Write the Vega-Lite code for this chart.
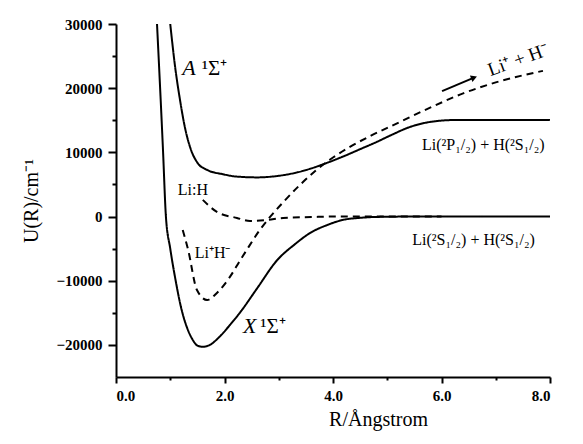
{
  "$schema": "https://vega.github.io/schema/vega-lite/v6.json",
  "width": 434,
  "height": 353,
  "autosize": {"type": "none"},
  "padding": {"left": 116, "top": 24, "right": 33, "bottom": 67},
  "background": "white",
  "config": {
    "view": {"stroke": null},
    "font": "Liberation Serif",
    "axis": {"labelFont": "Liberation Serif", "titleFont": "Liberation Serif", "labelColor": "black", "titleColor": "black", "domainColor": "black", "tickColor": "black", "grid": false}
  },
  "datasets": {
    "curves": [
      {"s": "X", "R": 0.756, "U": 30000}, {"s": "X", "R": 0.866, "U": 10400}, {"s": "X", "R": 0.92, "U": 0},
      {"s": "X", "R": 1.0, "U": -5000}, {"s": "X", "R": 1.1, "U": -10000}, {"s": "X", "R": 1.2, "U": -14200},
      {"s": "X", "R": 1.3, "U": -17100}, {"s": "X", "R": 1.4, "U": -19000}, {"s": "X", "R": 1.5, "U": -20100},
      {"s": "X", "R": 1.6, "U": -20300}, {"s": "X", "R": 1.75, "U": -19900}, {"s": "X", "R": 1.9, "U": -18800},
      {"s": "X", "R": 2.1, "U": -16900}, {"s": "X", "R": 2.3, "U": -14800}, {"s": "X", "R": 2.6, "U": -11200},
      {"s": "X", "R": 2.97, "U": -6800}, {"s": "X", "R": 3.3, "U": -4300}, {"s": "X", "R": 3.58, "U": -2550},
      {"s": "X", "R": 3.9, "U": -1300}, {"s": "X", "R": 4.18, "U": -530}, {"s": "X", "R": 4.5, "U": -200},
      {"s": "X", "R": 4.81, "U": -60}, {"s": "X", "R": 5.5, "U": 0}, {"s": "X", "R": 8.0, "U": 0},
      {"s": "A", "R": 1.0, "U": 30000}, {"s": "A", "R": 1.09, "U": 23300}, {"s": "A", "R": 1.18, "U": 18160},
      {"s": "A", "R": 1.27, "U": 13900}, {"s": "A", "R": 1.37, "U": 10700}, {"s": "A", "R": 1.5, "U": 8400},
      {"s": "A", "R": 1.68, "U": 7260}, {"s": "A", "R": 1.97, "U": 6600},
      {"s": "A", "R": 2.2, "U": 6250}, {"s": "A", "R": 2.6, "U": 6100}, {"s": "A", "R": 3.0, "U": 6350},
      {"s": "A", "R": 3.3, "U": 6800}, {"s": "A", "R": 3.6, "U": 7500}, {"s": "A", "R": 3.9, "U": 8400},
      {"s": "A", "R": 4.2, "U": 9400}, {"s": "A", "R": 4.5, "U": 10500}, {"s": "A", "R": 4.8, "U": 11600},
      {"s": "A", "R": 5.1, "U": 12800}, {"s": "A", "R": 5.4, "U": 13900}, {"s": "A", "R": 5.7, "U": 14600},
      {"s": "A", "R": 6.0, "U": 14950}, {"s": "A", "R": 6.3, "U": 15050}, {"s": "A", "R": 8.0, "U": 15050},
      {"s": "ionic", "R": 1.23, "U": -2100}, {"s": "ionic", "R": 1.33, "U": -5200}, {"s": "ionic", "R": 1.49, "U": -11400},
      {"s": "ionic", "R": 1.68, "U": -13000}, {"s": "ionic", "R": 1.86, "U": -11900}, {"s": "ionic", "R": 2.1, "U": -9400},
      {"s": "ionic", "R": 2.29, "U": -6800}, {"s": "ionic", "R": 2.41, "U": -5200}, {"s": "ionic", "R": 2.65, "U": -2100},
      {"s": "ionic", "R": 2.84, "U": -60}, {"s": "ionic", "R": 3.1, "U": 2400}, {"s": "ionic", "R": 3.4, "U": 5000},
      {"s": "ionic", "R": 3.7, "U": 7300}, {"s": "ionic", "R": 4.0, "U": 9200}, {"s": "ionic", "R": 4.3, "U": 10800},
      {"s": "ionic", "R": 4.7, "U": 12600}, {"s": "ionic", "R": 5.2, "U": 14600}, {"s": "ionic", "R": 5.8, "U": 17000},
      {"s": "ionic", "R": 6.4, "U": 19200}, {"s": "ionic", "R": 7.0, "U": 20900}, {"s": "ionic", "R": 7.87, "U": 22700},
      {"s": "cov", "R": 1.6, "U": 2600}, {"s": "cov", "R": 1.86, "U": 720}, {"s": "cov", "R": 2.23, "U": -220},
      {"s": "cov", "R": 2.47, "U": -690}, {"s": "cov", "R": 2.78, "U": -530}, {"s": "cov", "R": 3.08, "U": -220},
      {"s": "cov", "R": 3.6, "U": -80}, {"s": "cov", "R": 4.0, "U": 0}, {"s": "cov", "R": 6.0, "U": 0}
    ],
    "italic": [
      {"t": "A", "R": 1.22, "U": 22100},
      {"t": "X", "R": 2.34, "U": -18100}
    ],
    "upright_big": [
      {"t": "¹Σ⁺", "R": 1.58, "U": 22100},
      {"t": "¹Σ⁺", "R": 2.66, "U": -18100}
    ],
    "small": [
      {"t": "Li:H", "R": 1.14, "U": 3400},
      {"t": "Li⁺H⁻", "R": 1.45, "U": -6500},
      {"t": "Li(²P₁/₂) + H(²S₁/₂)", "R": 5.64, "U": 10300},
      {"t": "Li(²S₁/₂) + H(²S₁/₂)", "R": 5.46, "U": -4400}
    ],
    "rot": [
      {"t": "Li⁺ + H⁻", "R": 7.41, "U": 24400}
    ],
    "arrow": [
      {"R": 6.01, "U": 19550, "o": 0},
      {"R": 6.6, "U": 21650, "o": 1}
    ],
    "head": [
      {"R": 6.6, "U": 21650}
    ]
  },
  "encoding": {
    "x": {
      "field": "R", "type": "quantitative",
      "scale": {"domain": [0, 8], "nice": false, "zero": false},
      "axis": {
        "values": [0, 1, 2, 3, 4, 5, 6, 7, 8],
        "labelExpr": "datum.value % 2 === 0 ? format(datum.value, '.1f') : ''",
        "tickSize": {"expr": "datum.value % 2 === 0 ? 6 : 3"},
        "tickWidth": 2,
        "domainWidth": 2,
        "labelFontSize": 15,
        "labelFontWeight": "bold",
        "labelPadding": 5,
        "title": "R/Ångstrom",
        "titleFontSize": 20,
        "titleFontWeight": "normal",
        "titleX": 262,
        "titlePadding": 6
      }
    },
    "y": {
      "field": "U", "type": "quantitative",
      "scale": {"domain": [-25000, 30000], "nice": false, "zero": false},
      "axis": {
        "values": [-20000, -15000, -10000, -5000, 0, 5000, 10000, 15000, 20000, 25000, 30000],
        "labelExpr": "datum.value % 10000 === 0 ? format(datum.value, 'd') : ''",
        "tickSize": {"expr": "datum.value % 10000 === 0 ? 8 : 4"},
        "tickWidth": 2,
        "domainWidth": 2,
        "labelFontSize": 15,
        "labelFontWeight": "bold",
        "labelPadding": 6,
        "title": "U(R)/cm⁻¹",
        "titleFontSize": 20,
        "titleFontWeight": "normal",
        "titlePadding": 14
      }
    }
  },
  "layer": [
    {
      "data": {"name": "curves"},
      "mark": {"type": "line", "interpolate": "monotone", "strokeWidth": 2, "color": "black", "clip": true},
      "encoding": {
        "detail": {"field": "s"},
        "strokeDash": {
          "field": "s", "type": "nominal", "legend": null,
          "scale": {"domain": ["X", "A", "ionic", "cov"], "range": [[1, 0], [1, 0], [7, 5], [7, 5]]}
        }
      }
    },
    {
      "data": {"name": "arrow"},
      "mark": {"type": "line", "strokeWidth": 2, "color": "black"},
      "encoding": {"order": {"field": "o"}}
    },
    {
      "data": {"name": "head"},
      "mark": {"type": "point", "shape": "triangle-right", "filled": true, "color": "black", "size": 50, "angle": 339, "opacity": 1}
    },
    {
      "data": {"name": "italic"},
      "mark": {"type": "text", "align": "left", "baseline": "alphabetic", "fontSize": 22, "fontStyle": "italic", "font": "Liberation Serif", "color": "black"},
      "encoding": {"text": {"field": "t"}}
    },
    {
      "data": {"name": "upright_big"},
      "mark": {"type": "text", "align": "left", "baseline": "alphabetic", "fontSize": 21, "font": "Liberation Serif", "color": "black"},
      "encoding": {"text": {"field": "t"}}
    },
    {
      "data": {"name": "small"},
      "mark": {"type": "text", "align": "left", "baseline": "alphabetic", "fontSize": 16, "font": "Liberation Serif", "color": "black"},
      "encoding": {"text": {"field": "t"}}
    },
    {
      "data": {"name": "rot"},
      "mark": {"type": "text", "align": "center", "baseline": "middle", "fontSize": 19, "angle": 340, "font": "Liberation Serif", "color": "black"},
      "encoding": {"text": {"field": "t"}}
    }
  ]
}
